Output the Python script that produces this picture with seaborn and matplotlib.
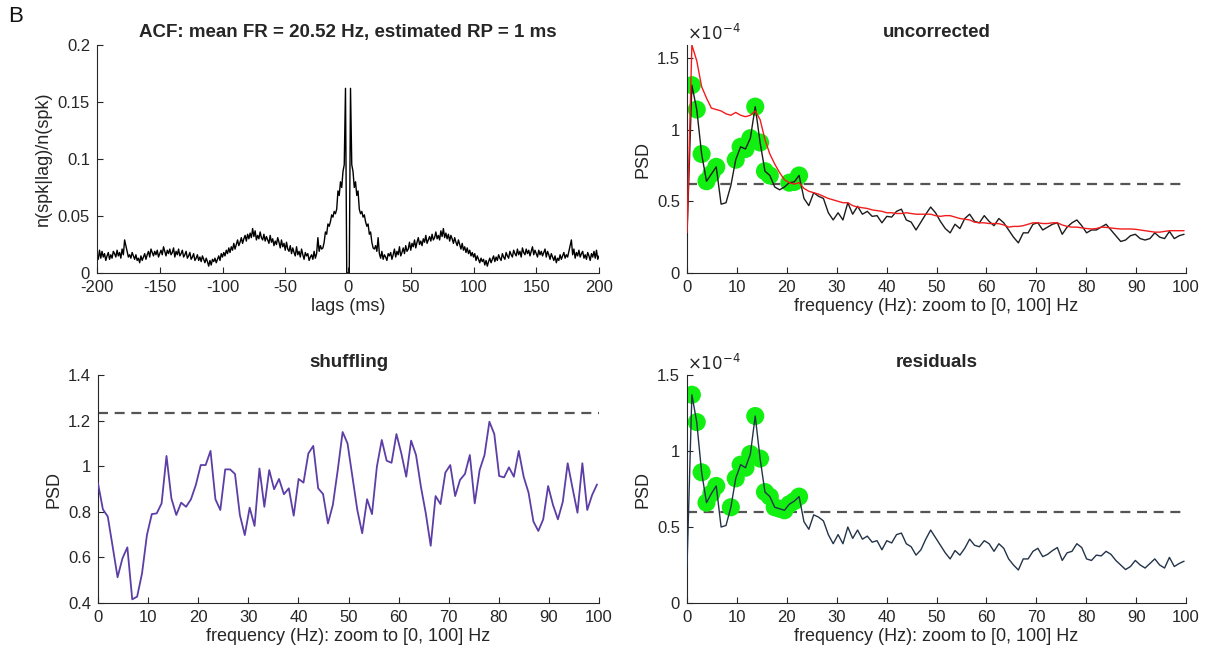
import numpy as np
import pandas as pd
import matplotlib
matplotlib.use("Agg")
import matplotlib.pyplot as plt
from matplotlib.ticker import FuncFormatter
import seaborn as sns

# ---------------- data ----------------
# ACF (one-sided, lags 0..200 ms; the autocorrelogram is symmetric)
acf_pos = [
    0, 0, 0.162, 0.095, 0.089, 0.075, 0.080, 0.068, 0.072, 0.056,
    0.052, 0.054, 0.049, 0.051, 0.045, 0.041, 0.043, 0.034, 0.036, 0.027,
    0.022, 0.021, 0.024, 0.019, 0.031,
    0.017, 0.013, 0.019, 0.012, 0.016, 0.014, 0.011, 0.017, 0.015, 0.018,
    0.012, 0.016, 0.021, 0.014, 0.019, 0.016, 0.023, 0.015, 0.018, 0.022,
    0.017, 0.024, 0.019, 0.021, 0.027,
    0.020, 0.026, 0.023, 0.029, 0.022, 0.027, 0.031, 0.025, 0.028, 0.024,
    0.030, 0.027, 0.033, 0.026, 0.029, 0.032, 0.028, 0.034, 0.029, 0.031,
    0.036, 0.030, 0.033, 0.029, 0.037,
    0.032, 0.039, 0.031, 0.035, 0.030, 0.034, 0.028, 0.033, 0.030, 0.026,
    0.031, 0.027, 0.024, 0.029, 0.025, 0.021, 0.026, 0.020, 0.023, 0.018,
    0.022, 0.017, 0.020, 0.015, 0.018,
    0.014, 0.017, 0.011, 0.015, 0.012, 0.009, 0.013, 0.010, 0.012, 0.007,
    0.011, 0.006, 0.010, 0.013, 0.009, 0.012, 0.015, 0.010, 0.014, 0.011,
    0.016, 0.013, 0.011, 0.017, 0.014,
    0.012, 0.018, 0.015, 0.013, 0.019, 0.016, 0.014, 0.020, 0.017, 0.015,
    0.021, 0.016, 0.019, 0.014, 0.022, 0.018, 0.016, 0.021, 0.017, 0.020,
    0.015, 0.019, 0.023, 0.016, 0.020,
    0.017, 0.014, 0.020, 0.016, 0.019, 0.015, 0.018, 0.021, 0.014, 0.019,
    0.016, 0.012, 0.017, 0.014, 0.011, 0.015, 0.009, 0.013, 0.011, 0.016,
    0.012, 0.015, 0.018, 0.013, 0.016,
    0.014, 0.019, 0.024, 0.029, 0.016, 0.021, 0.013, 0.018, 0.015, 0.020,
    0.014, 0.017, 0.019, 0.013, 0.016, 0.012, 0.018, 0.015, 0.011, 0.017,
    0.014, 0.019, 0.013, 0.020, 0.012, 0.015,
]
acf_lags_pos = list(range(len(acf_pos)))

# PSD frequency bins (0..~100 Hz)
n_bins = 103
bin_hz = 1000 / 1024

# uncorrected PSD (x 1e-4)
psd_uncorr = [
    0.26, 1.31, 1.14, 0.83, 0.64, 0.69, 0.74, 0.48, 0.49, 0.61,
    0.79, 0.88, 0.865, 0.94, 1.16, 0.91, 0.71, 0.68, 0.60, 0.58,
    0.60, 0.63, 0.635, 0.68, 0.52, 0.47, 0.56, 0.535, 0.52, 0.42,
    0.37, 0.42, 0.37, 0.49, 0.41, 0.465, 0.41, 0.43, 0.395, 0.40,
    0.35, 0.395, 0.39, 0.43, 0.445, 0.37, 0.355, 0.30, 0.355, 0.41,
    0.46, 0.42, 0.36, 0.31, 0.28, 0.34, 0.31, 0.38, 0.41, 0.36,
    0.35, 0.40, 0.36, 0.33, 0.38, 0.35, 0.30, 0.25, 0.21, 0.28,
    0.28, 0.34, 0.35, 0.30, 0.32, 0.34, 0.35, 0.27, 0.32, 0.35,
    0.37, 0.33, 0.28, 0.30, 0.30, 0.32, 0.34, 0.30, 0.26, 0.22,
    0.23, 0.26, 0.27, 0.24, 0.23, 0.24, 0.28, 0.25, 0.24, 0.29,
    0.24, 0.26, 0.27,
]
# fitted / smoothed PSD (red, x 1e-4)
psd_fit = [
    0.28, 1.59, 1.48, 1.30, 1.22, 1.15, 1.14, 1.13, 1.11, 1.10,
    1.12, 1.10, 1.09, 1.10, 1.13, 1.07, 0.93, 0.83, 0.76, 0.70,
    0.65, 0.63, 0.62, 0.63, 0.59, 0.57, 0.56, 0.55, 0.535, 0.52,
    0.51, 0.50, 0.49, 0.49, 0.47, 0.46, 0.455, 0.45, 0.44, 0.435,
    0.43, 0.42, 0.42, 0.415, 0.415, 0.42, 0.415, 0.41, 0.41, 0.41,
    0.41, 0.40, 0.395, 0.40, 0.40, 0.39, 0.38, 0.375, 0.37, 0.355,
    0.35, 0.35, 0.345, 0.345, 0.344, 0.335, 0.32, 0.325, 0.325, 0.33,
    0.34, 0.35, 0.35, 0.345, 0.345, 0.35, 0.35, 0.335, 0.325, 0.32,
    0.32, 0.315, 0.31, 0.307, 0.31, 0.32, 0.318, 0.314, 0.31, 0.307,
    0.307, 0.307, 0.305, 0.30, 0.295, 0.29, 0.285, 0.285, 0.29, 0.295,
    0.295, 0.295, 0.295,
]
uncorr_peaks = [1, 2, 3, 4, 5, 6, 10, 11, 12, 13, 14, 15, 16, 17, 21, 22, 23]
uncorr_thresh = 0.62

# shuffling PSD
psd_shuffle = [
    0.925, 0.811, 0.779, 0.647, 0.513, 0.596, 0.644, 0.416, 0.428, 0.53,
    0.698, 0.79, 0.793, 0.837, 1.045, 0.859, 0.786, 0.84, 0.822, 0.855,
    0.918, 1.005, 1.005, 1.067, 0.855, 0.808, 0.986, 0.986, 0.966, 0.786,
    0.698, 0.818, 0.738, 0.99, 0.822, 0.983, 0.899, 0.944, 0.877, 0.903,
    0.783, 0.944, 0.928, 1.056, 1.089, 0.903, 0.878, 0.749, 0.83, 0.983,
    1.15, 1.10, 0.954, 0.808, 0.706, 0.855, 0.79, 0.998, 1.115, 1.024,
    1.015, 1.141, 1.056, 0.954, 1.112, 1.049, 0.91, 0.793, 0.651, 0.869,
    0.834, 0.972, 1.005, 0.869, 0.94, 0.966, 1.049, 0.837, 0.983, 1.049,
    1.195, 1.141, 0.957, 0.951, 0.995, 0.954, 1.067, 0.954, 0.884, 0.757,
    0.716, 0.767, 0.913, 0.83, 0.767, 0.844, 1.013, 0.903, 0.796, 1.013,
    0.808, 0.874, 0.92,
]
shuffle_thresh = 1.232

# residual PSD (x 1e-4)
psd_resid = [
    0.24, 1.37, 1.19, 0.86, 0.66, 0.72, 0.77, 0.50, 0.51, 0.63,
    0.82, 0.91, 0.89, 0.98, 1.23, 0.95, 0.73, 0.70, 0.63, 0.62,
    0.61, 0.65, 0.67, 0.70, 0.535, 0.485, 0.58, 0.565, 0.54, 0.45,
    0.39, 0.45, 0.39, 0.50, 0.425, 0.48, 0.42, 0.44, 0.40, 0.41,
    0.35, 0.41, 0.395, 0.45, 0.46, 0.39, 0.37, 0.315, 0.35, 0.42,
    0.48, 0.43, 0.38, 0.33, 0.29, 0.345, 0.315, 0.36, 0.42, 0.38,
    0.37, 0.41, 0.39, 0.34, 0.39, 0.36, 0.29, 0.25, 0.217, 0.29,
    0.29, 0.34, 0.36, 0.305, 0.32, 0.345, 0.365, 0.28, 0.33, 0.34,
    0.39, 0.365, 0.29, 0.28, 0.315, 0.31, 0.34, 0.32, 0.28, 0.25,
    0.22, 0.24, 0.28, 0.25, 0.23, 0.26, 0.29, 0.25, 0.23, 0.30,
    0.24, 0.26, 0.275,
]
resid_peaks = [1, 2, 3, 4, 5, 6, 9, 10, 11, 12, 13, 14, 15, 16, 17, 18, 19, 20, 21, 22, 23]
resid_thresh = 0.60

title_acf = "ACF: mean FR = 20.52 Hz, estimated RP = 1 ms"
xlab_psd = "frequency (Hz): zoom to [0, 100] Hz"

# ---------------- build frames ----------------
acf_lags = [-l for l in acf_lags_pos[:0:-1]] + acf_lags_pos
acf_vals = acf_pos[:0:-1] + acf_pos
df_acf = pd.DataFrame({"lag": acf_lags, "acf": acf_vals})

freqs = np.arange(n_bins) * bin_hz
SC = 1e-4
df_psd = pd.DataFrame({
    "f": freqs,
    "unc": np.array(psd_uncorr) * SC,
    "fit": np.array(psd_fit) * SC,
    "shuf": psd_shuffle,
    "res": np.array(psd_resid) * SC,
})

# ---------------- style ----------------
sns.set_theme(style="ticks")
plt.rcParams["font.family"] = ["Liberation Sans", "DejaVu Sans"]
plt.rcParams["axes.unicode_minus"] = False
AX_COL = "#262626"

fig = plt.figure(figsize=(12.09, 6.63), dpi=100)
W, H = 1209, 663
def pos(x0, x1, y0, y1):
    return [x0 / W, 1 - y1 / H, (x1 - x0) / W, (y1 - y0) / H]

ax1 = fig.add_axes(pos(97, 599, 45, 273))
ax2 = fig.add_axes(pos(687, 1186, 45, 273))
ax3 = fig.add_axes(pos(98, 599, 375, 603))
ax4 = fig.add_axes(pos(687, 1186, 375, 603))

def style(ax):
    for s in ["top", "right"]:
        ax.spines[s].set_visible(False)
    for s in ["left", "bottom"]:
        ax.spines[s].set_color(AX_COL)
        ax.spines[s].set_linewidth(0.8)
    ax.tick_params(direction="in", length=4, width=0.8, colors=AX_COL,
                   labelsize=12, labelcolor=AX_COL, pad=5)
    ax.grid(False)

# ACF
sns.lineplot(data=df_acf, x="lag", y="acf", ax=ax1, color="black", lw=1.0, sort=False)
ax1.set_xlim(-200, 200)
ax1.set_ylim(0, 0.2)
ax1.set_xticks(range(-200, 201, 50))
ax1.set_yticks([0, 0.05, 0.1, 0.15, 0.2])
ax1.yaxis.set_major_formatter(FuncFormatter(lambda v, p: f"{v:g}"))
ax1.set_xlabel("lags (ms)", fontsize=13, color=AX_COL, labelpad=2)
ax1.set_ylabel("n(spk|lag)/n(spk)", fontsize=13, color=AX_COL, labelpad=4)
ax1.set_title(title_acf, fontsize=13.5, fontweight="bold", pad=6)

sci_fmt = FuncFormatter(lambda v, p: f"{v / SC:g}")

def psd_panel(ax, col, lcolor, peaks, thresh, title, fitcol=None):
    ax.axhline(thresh * SC, color="#555555", lw=1.6, ls=(0, (4.5, 3)), zorder=1)
    pk = df_psd.iloc[peaks]
    sns.scatterplot(data=pk, x="f", y=col, ax=ax, color="#12f012", s=170,
                    edgecolor="none", zorder=2, legend=False)
    sns.lineplot(data=df_psd, x="f", y=col, ax=ax, color=lcolor, lw=1.0, zorder=3)
    if fitcol is not None:
        sns.lineplot(data=df_psd, x="f", y=fitcol, ax=ax, color="#f21c1c", lw=1.0, zorder=4)
    ax.set_xlim(0, 100)
    ax.set_xticks(range(0, 101, 10))
    ax.set_yticks([0, 0.5e-4, 1e-4, 1.5e-4])
    ax.yaxis.set_major_formatter(sci_fmt)
    ax.set_xlabel(xlab_psd, fontsize=13, color=AX_COL, labelpad=2)
    ax.set_ylabel("PSD", fontsize=13, color=AX_COL, labelpad=4)
    ax.set_title(title, fontsize=13.5, fontweight="bold", pad=6)
    ax.text(0.0, 1.005, r"$\times10^{-4}$", transform=ax.transAxes, fontsize=12,
            color=AX_COL, ha="left", va="bottom", family="DejaVu Sans")

psd_panel(ax2, "unc", "#1c1c1c", uncorr_peaks, uncorr_thresh, "uncorrected", fitcol="fit")
ax2.set_ylim(0, 1.59e-4)
psd_panel(ax4, "res", "#233449", resid_peaks, resid_thresh, "residuals")
ax4.set_ylim(0, 1.5e-4)

# shuffling
ax3.axhline(shuffle_thresh, color="#555555", lw=1.6, ls=(0, (4.5, 3)), zorder=1)
sns.lineplot(data=df_psd, x="f", y="shuf", ax=ax3, color="#5c3ea6", lw=1.3, zorder=3)
ax3.set_xlim(0, 100)
ax3.set_ylim(0.4, 1.4)
ax3.set_xticks(range(0, 101, 10))
ax3.set_yticks([0.4, 0.6, 0.8, 1.0, 1.2, 1.4])
ax3.yaxis.set_major_formatter(FuncFormatter(lambda v, p: f"{v:g}"))
ax3.set_xlabel(xlab_psd, fontsize=13, color=AX_COL, labelpad=2)
ax3.set_ylabel("PSD", fontsize=13, color=AX_COL, labelpad=4)
ax3.set_title("shuffling", fontsize=13.5, fontweight="bold", pad=6)

for ax in (ax1, ax2, ax3, ax4):
    style(ax)

fig.text(8 / W, 1 - 6 / H, "B", fontsize=16, ha="left", va="top", color="#111111")

fig.savefig("out.png", dpi=100)
